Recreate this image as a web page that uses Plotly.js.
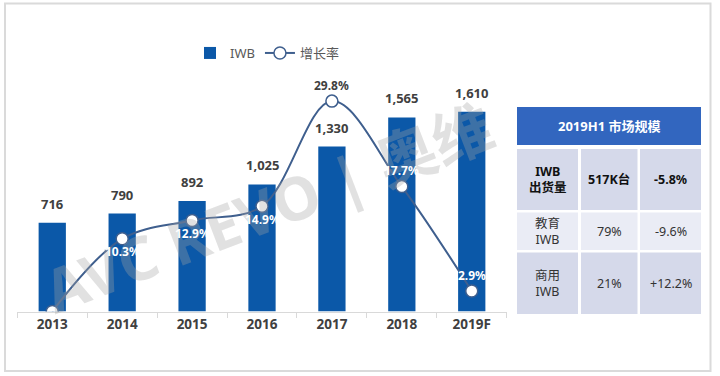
<!DOCTYPE html>
<html>
<head>
<meta charset="utf-8">
<script src="https://cdn.plot.ly/plotly-3.0.1.min.js"></script>
<style>html,body{margin:0;padding:0;background:#fff}#chart{width:720px;height:376px}</style>
</head>
<body>
<div id="chart"></div>
<script>
// ---- data ----
const years = ['2013', '2014', '2015', '2016', '2017', '2018', '2019F'];
const iwbShipments = [716, 790, 892, 1025, 1330, 1565, 1610];
const growthRate = [0, 10.3, 12.9, 14.9, 29.8, 17.7, 2.9];
const growthLabelShown = [false, true, true, true, true, true, true];

const tableTitle = '2019H1 市场规模';
const tableCol1 = ['IWB<br>出货量', '教育<br>IWB', '商用<br>IWB'];
const tableCol2 = ['517K台', '79%', '21%'];
const tableCol3 = ['-5.8%', '-9.6%', '+12.2%'];

// ---- styling ----
const FONT = 'Noto Sans, Noto Sans CJK SC, sans-serif';
const BAR_COLOR = '#0B58A8';
const LINE_COLOR = '#3F5F8E';
const growthLabelPlace = ['below', 'below', 'below', 'below', 'above', 'above', 'above'];
const growthLabelColor = ['#fff', '#fff', '#fff', '#fff', '#404040', '#fff', '#fff'];

const W = 720, H = 376;
const px = x => x / W;
const py = y => 1 - y / H;

const traces = [
  {
    type: 'bar', name: 'IWB', x: years, y: iwbShipments, yaxis: 'y',
    marker: {color: BAR_COLOR}, width: 0.39, hoverinfo: 'skip'
  },
  {
    type: 'scatter', name: '增长率', x: years, y: growthRate, yaxis: 'y2',
    mode: 'lines+markers',
    line: {color: LINE_COLOR, width: 2, shape: 'spline', smoothing: 1},
    marker: {size: 12, color: '#ffffff', line: {color: LINE_COLOR, width: 1.5}},
    hoverinfo: 'skip'
  }
];

const annotations = [];

// watermark (the part not hidden by the table)
annotations.push({xref: 'paper', yref: 'paper', x: px(268), y: py(208), xanchor: 'center', yanchor: 'middle',
  text: 'AVC REVO | 奥维', showarrow: false, textangle: -21,
  font: {family: FONT, size: 60, color: 'rgba(165,165,165,0.33)', weight: 'bold'}});

// bar value labels (category index positions on the category axis)
years.forEach((yr, i) => {
  annotations.push({
    x: i, y: iwbShipments[i], xref: 'x', yref: 'y', yshift: 19,
    xanchor: 'center', yanchor: 'middle',
    text: iwbShipments[i].toLocaleString('en-US'), showarrow: false,
    font: {family: FONT, size: 13, color: '#404040', weight: 'bold'}
  });
});
// growth labels
years.forEach((yr, i) => {
  if (!growthLabelShown[i]) return;
  annotations.push({
    x: i, y: growthRate[i], xref: 'x', yref: 'y2',
    yshift: growthLabelPlace[i] === 'above' ? 16 : -13,
    xanchor: 'center', yanchor: 'middle',
    text: growthRate[i].toFixed(1) + '%', showarrow: false,
    font: {family: FONT, size: 12, color: growthLabelColor[i], weight: 'bold'}
  });
});

// table
const shapes = [];
shapes.push({type: 'rect', xref: 'paper', yref: 'paper', x0: px(5), x1: px(710.5), y0: py(371), y1: py(3.5),
  line: {color: '#DADADA', width: 2}, fillcolor: 'rgba(0,0,0,0)', layer: 'below'});
shapes.push({type: 'rect', xref: 'paper', yref: 'paper', x0: px(517), x1: px(701), y0: py(145), y1: py(107),
  line: {width: 0}, fillcolor: '#3266BF'});
annotations.push({xref: 'paper', yref: 'paper', x: px(609), y: py(126), xanchor: 'center', yanchor: 'middle',
  text: tableTitle, showarrow: false,
  font: {family: FONT, size: 13, color: '#ffffff', weight: 'bold'}});

const colEdges = [[517, 578], [581, 637.5], [640, 701]];
const rowEdges = [[149, 210], [212.5, 250], [252.5, 314]];
const rowFill = ['#D5D9EA', '#EAECF5', '#D5D9EA'];
const cols = [tableCol1, tableCol2, tableCol3];
rowEdges.forEach((r, ri) => {
  colEdges.forEach((c, ci) => {
    shapes.push({type: 'rect', xref: 'paper', yref: 'paper', x0: px(c[0]), x1: px(c[1]), y0: py(r[1]), y1: py(r[0]),
      line: {width: 0}, fillcolor: rowFill[ri]});
    annotations.push({xref: 'paper', yref: 'paper', x: px((c[0] + c[1]) / 2), y: py((r[0] + r[1]) / 2),
      xanchor: 'center', yanchor: 'middle',
      text: cols[ci][ri], showarrow: false, align: 'center',
      font: {family: FONT, size: 12.5, color: ri === 0 ? '#111' : '#333', weight: ri === 0 ? 'bold' : 'normal'}});
  });
});

const yTopPx = 60, yBotPx = 311.5;
const layout = {
  width: W, height: H,
  margin: {l: 0, r: 0, t: 0, b: 0},
  paper_bgcolor: '#ffffff', plot_bgcolor: 'rgba(0,0,0,0)',
  font: {family: FONT, color: '#404040'},
  showlegend: true,
  legend: {orientation: 'h', x: px(190), xanchor: 'left', y: py(53), yanchor: 'middle',
    font: {family: FONT, size: 13, color: '#595959'}, itemwidth: 30, bgcolor: 'rgba(0,0,0,0)'},
  xaxis: {
    domain: [px(17.3), px(506.7)], type: 'category', range: [-0.5, 6.5],
    showline: true, linecolor: '#D9D9D9', linewidth: 1,
    ticks: 'outside', tickson: 'boundaries', ticklen: 5, tickcolor: '#D9D9D9',
    tickfont: {family: FONT, size: 13.5, color: '#404040', weight: 'bold'},
    showgrid: false, zeroline: false, fixedrange: true
  },
  yaxis: {
    domain: [py(yBotPx), py(yTopPx)], range: [0, (yBotPx - yTopPx) / 0.124],
    visible: false, showgrid: false, zeroline: false, fixedrange: true
  },
  yaxis2: {
    overlaying: 'y', side: 'right', range: [0, (yBotPx - yTopPx) / 7.06],
    visible: false, showgrid: false, zeroline: false, fixedrange: true
  },
  annotations: annotations,
  shapes: shapes
};

Plotly.newPlot('chart', traces, layout, {displayModeBar: false, staticPlot: true});
</script>
</body>
</html>
